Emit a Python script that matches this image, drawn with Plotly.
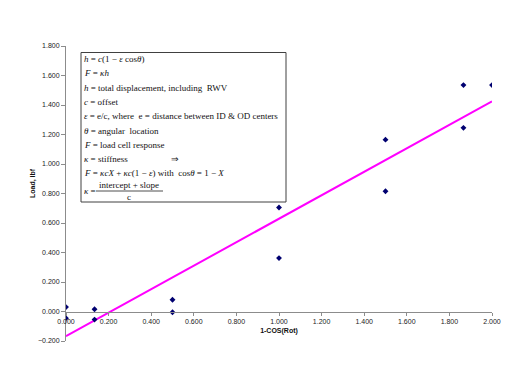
import numpy as np
import plotly.graph_objects as go

# Data
x_vals = [0.0, 0.0, 0.134, 0.134, 0.5, 0.5, 1.0, 1.0, 1.5, 1.5, 1.866, 1.866, 2.0]
y_vals = [0.030, -0.045, 0.015, -0.055, 0.080, -0.005, 0.705, 0.362, 1.165, 0.815, 1.535, 1.245, 1.535]

x_ticks = [0.0, 0.2, 0.4, 0.6, 0.8, 1.0, 1.2, 1.4, 1.6, 1.8, 2.0]
y_ticks = [-0.2, 0.0, 0.2, 0.4, 0.6, 0.8, 1.0, 1.2, 1.4, 1.6, 1.8]

text_lines = [
    "<i>h</i> = <i>c</i>(1 − <i>ε</i> cos<i>θ</i>)",
    "<i>F</i> = <i>κh</i>",
    "<i>h</i> = total displacement, including  RWV",
    "<i>c</i> = offset",
    "<i>ε</i> = e/c, where  e = distance between ID &amp; OD centers",
    "<i>θ</i> = angular  location",
    "<i>F</i> = load cell response",
    "<i>κ</i> = stiffness",
    "<i>F</i> = <i>κcX</i> + <i>κc</i>(1 − <i>ε</i>) with  cos<i>θ</i> = 1 − <i>X</i>",
]

# trendline (least squares, like Excel's linear trendline)
slope, intercept = np.polyfit(x_vals, y_vals, 1)
x_line = np.array([min(x_vals), max(x_vals)])
y_line = slope * x_line + intercept

OFF = 8  # default page body margin
W, H = 521 - OFF, 391 - OFF
ML, MR, MT, MB = 66 - OFF, 29, 46 - OFF, 50
PW, PH = W - ML - MR, H - MT - MB


def px(x):
    return (x - OFF - ML) / PW


def py(y):
    return (H - MB - (y - OFF)) / PH


fig = go.Figure()
fig.add_trace(go.Scatter(
    x=x_line, y=y_line, mode="lines",
    line=dict(color="#FF00FF", width=2), hoverinfo="skip", showlegend=False))
fig.add_trace(go.Scatter(
    x=x_vals, y=y_vals, mode="markers",
    marker=dict(symbol="diamond", size=4.5, color="#000070"), showlegend=False))

serif = "Liberation Serif"
tfont = dict(family=serif, size=9, color="#111111")

fig.add_shape(type="rect", xref="paper", yref="paper",
              x0=px(81), x1=px(286), y0=py(202), y1=py(52.5),
              line=dict(color="#404040", width=1), fillcolor="white", layer="above")

line_y = [59, 73.3, 87.6, 101.9, 116.2, 130.5, 144.8, 159.1, 173.2]
annotations = []
for t, yy in zip(text_lines, line_y):
    annotations.append(dict(text=t, xref="paper", yref="paper", x=px(82), y=py(yy),
                            xanchor="left", yanchor="middle", showarrow=False, font=tfont))
annotations.append(dict(text="⇒", xref="paper", yref="paper", x=px(175), y=py(159.1),
                        xanchor="center", yanchor="middle", showarrow=False, font=tfont))
annotations.append(dict(text="<i>κ</i> =", xref="paper", yref="paper", x=px(82), y=py(190.5),
                        xanchor="left", yanchor="middle", showarrow=False, font=tfont))
annotations.append(dict(text="intercept + slope", xref="paper", yref="paper", x=px(129), y=py(185.3),
                        xanchor="center", yanchor="middle", showarrow=False, font=tfont))
annotations.append(dict(text="c", xref="paper", yref="paper", x=px(129), y=py(197.2),
                        xanchor="center", yanchor="middle", showarrow=False, font=tfont))
fig.add_shape(type="line", xref="paper", yref="paper",
              x0=px(96), x1=px(163), y0=py(191), y1=py(191),
              line=dict(color="#222222", width=0.8), layer="above")

# y-axis title
annotations.append(dict(text="<b>Load, lbf</b>", xref="paper", yref="paper", x=px(33), y=py(183),
                        xanchor="center", yanchor="middle", showarrow=False, textangle=-90,
                        font=dict(family="Liberation Sans", size=7, color="#111111")))

axfont = dict(family="Liberation Sans", size=7, color="#222222")
fig.update_layout(
    width=W, height=H,
    margin=dict(l=ML, r=MR, t=MT, b=MB),
    paper_bgcolor="white", plot_bgcolor="white",
    annotations=annotations,
    xaxis=dict(range=[0, 2], tickvals=x_ticks, tickformat=".3f",
               showgrid=False, zeroline=False, showline=True, linecolor="#8c8c8c", linewidth=1,
               ticks="outside", ticklen=3, tickcolor="#8c8c8c", tickfont=axfont,
               anchor="free", position=(0 - y_ticks[0]) / (y_ticks[-1] - y_ticks[0]),
               title=dict(text="<b>1-COS(Rot)</b>", font=dict(family="Liberation Sans", size=7, color="#111111"),
                          standoff=4)),
    yaxis=dict(range=[y_ticks[0], y_ticks[-1]], tickvals=y_ticks, tickformat=".3f",
               showgrid=False, zeroline=False, showline=True, linecolor="#8c8c8c", linewidth=1,
               ticks="outside", ticklen=4, tickcolor="#8c8c8c", tickfont=axfont),
)
fig.write_html("out.html")
